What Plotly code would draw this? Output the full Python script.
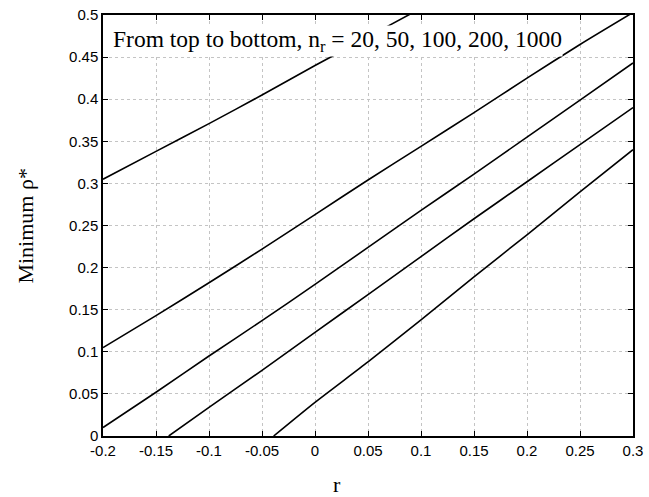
import plotly.graph_objects as go

# Data
r_20 = [-0.2, -0.15, -0.1, -0.05, 0.0, 0.05, 0.1]
rho_20 = [0.305, 0.338, 0.371, 0.405, 0.440, 0.474, 0.508]

r_50 = [-0.2, -0.15, -0.1, -0.05, 0.0, 0.05, 0.1, 0.15, 0.2, 0.25, 0.3]
rho_50 = [0.105, 0.143, 0.182, 0.222, 0.263, 0.304, 0.344, 0.384, 0.425, 0.465, 0.503]

r_100 = [-0.2, -0.15, -0.1, -0.05, 0.0, 0.05, 0.1, 0.15, 0.2, 0.25, 0.3]
rho_100 = [0.010, 0.052, 0.095, 0.137, 0.180, 0.224, 0.268, 0.311, 0.355, 0.399, 0.443]

r_200 = [-0.138, -0.1, -0.05, 0.0, 0.05, 0.1, 0.15, 0.2, 0.25, 0.3]
rho_200 = [0.0, 0.034, 0.078, 0.123, 0.168, 0.213, 0.258, 0.302, 0.346, 0.390]

r_1000 = [-0.039, 0.0, 0.05, 0.1, 0.15, 0.2, 0.25, 0.3]
rho_1000 = [0.0, 0.040, 0.088, 0.138, 0.189, 0.239, 0.290, 0.340]

x_ticks = [-0.2, -0.15, -0.1, -0.05, 0, 0.05, 0.1, 0.15, 0.2, 0.25, 0.3]
x_labels = ["-0.2", "-0.15", "-0.1", "-0.05", "0", "0.05", "0.1", "0.15", "0.2", "0.25", "0.3"]
y_ticks = [0, 0.05, 0.1, 0.15, 0.2, 0.25, 0.3, 0.35, 0.4, 0.45, 0.5]
y_labels = ["0", "0.05", "0.1", "0.15", "0.2", "0.25", "0.3", "0.35", "0.4", "0.45", "0.5"]

series = [(r_20, rho_20), (r_50, rho_50), (r_100, rho_100), (r_200, rho_200), (r_1000, rho_1000)]

fig = go.Figure()
for xs, ys in series:
    fig.add_trace(go.Scatter(x=xs, y=ys, mode="lines",
                             line=dict(color="black", width=1.6, shape="spline", smoothing=0.6),
                             showlegend=False, cliponaxis=True))

axis_common = dict(
    showgrid=True, gridcolor="#c4c4c4", griddash="dot", gridwidth=1,
    showline=True, linecolor="black", linewidth=1.5, mirror="ticks",
    ticks="inside", ticklen=5, tickcolor="black", tickwidth=1,
    zeroline=False, automargin=False,
    tickfont=dict(family="Liberation Sans, Arial, sans-serif", size=15, color="black"),
)

fig.update_xaxes(range=[-0.2, 0.3], tickvals=x_ticks, ticktext=x_labels, **axis_common)
fig.update_yaxes(range=[0, 0.5], tickvals=y_ticks, ticktext=y_labels, **axis_common)

fig.update_layout(
    width=649, height=497,
    margin=dict(l=103, r=16, t=15, b=61),
    paper_bgcolor="white", plot_bgcolor="white",
    annotations=[
        dict(text="From top to bottom, n<sub>r</sub> = 20, 50, 100, 200, 1000",
             xref="paper", yref="paper", x=0.017, y=0.938,
             xanchor="left", yanchor="middle", showarrow=False,
             bgcolor="white", borderpad=0,
             font=dict(family="Liberation Serif, Times New Roman, serif", size=23.5, color="black")),
        dict(text="Minimum ρ*", xref="paper", yref="paper",
             x=-0.147, y=0.50, xanchor="center", yanchor="middle",
             textangle=-90, showarrow=False,
             font=dict(family="Liberation Serif, Times New Roman, serif", size=22, color="black")),
        dict(text="r", xref="paper", yref="paper",
             x=0.4415, y=-0.116, xanchor="center", yanchor="middle",
             showarrow=False,
             font=dict(family="Liberation Serif, Times New Roman, serif", size=22, color="black")),
    ],
)

fig.write_html("out.html")
